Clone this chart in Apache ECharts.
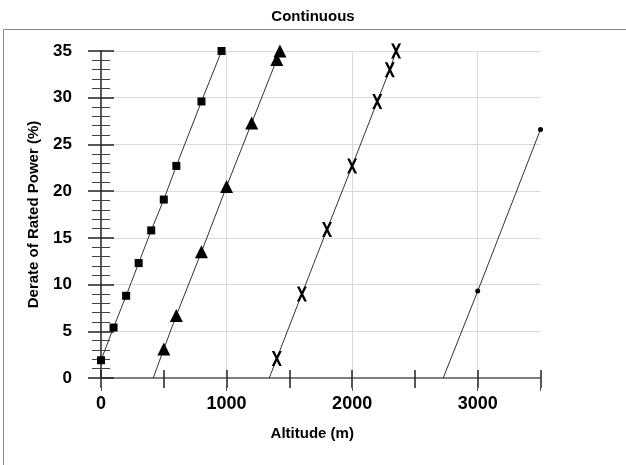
<!DOCTYPE html>
<html>
<head>
<meta charset="utf-8">
<script src="https://cdn.jsdelivr.net/npm/echarts@6/dist/echarts.min.js"></script>
<style>html,body{margin:0;padding:0;background:#fff;}#c{width:626px;height:465px;}</style>
</head>
<body>
<div id="c"></div>
<script>
// Series 1 (squares)
const sqAlt = [0, 100, 200, 300, 400, 500, 600, 800, 960];
const sqVal = [1.9, 5.4, 8.8, 12.3, 15.8, 19.1, 22.7, 29.6, 35.0];
// Series 2 (triangles); first point is the line's start on the axis
const triAlt = [416, 500, 600, 800, 1000, 1200, 1400, 1425];
const triVal = [0, 3.1, 6.7, 13.5, 20.5, 27.3, 34.1, 35.0];
// Series 3 (crosses); first point is the line's start on the axis
const xAlt = [1340, 1400, 1600, 1800, 2000, 2200, 2300, 2350];
const xVal = [0, 2.1, 9.0, 15.9, 22.7, 29.6, 33.0, 35.0];
// Series 4 (dots); first point is the line's start on the axis
const dotAlt = [2725, 3000, 3500];
const dotVal = [0, 9.3, 26.6];
// Axes
const xTickLabels = [0, 1000, 2000, 3000];
const xMin = 0, xMax = 3500;
const yMin = 0, yMax = 35;

const FONT = "'Liberation Sans', Arial, sans-serif";
const XSYM = 'path://M0,0L2.6,0L10,15L7.4,15ZM7.4,0L10,0L2.6,15L0,15Z';

function pts(alts, vals, hideFirst) {
  return alts.map((a, i) => (hideFirst && i === 0) ? { value: [a, vals[i]], symbol: 'none' } : [a, vals[i]]);
}

const chart = echarts.init(document.getElementById('c'), null, { renderer: 'canvas' });
const lineStyle = { color: '#333', width: 1 };
const base = { type: 'line', xAxisIndex: 0, yAxisIndex: 0, clip: false, animation: false,
  lineStyle: lineStyle, itemStyle: { color: '#000' }, z: 5 };

chart.setOption({
  animation: false,
  backgroundColor: '#fff',
  title: {
    text: 'Continuous', left: 'center', top: 4,
    textStyle: { fontFamily: FONT, fontSize: 15, fontWeight: 'bold', color: '#000' }
  },
  graphic: [{
    type: 'rect', silent: true, z: -10,
    shape: { x: 3.5, y: 29.5, width: 700, height: 500 },
    style: { fill: 'none', stroke: '#8a8a8a', lineWidth: 1 }
  }],
  grid: { left: 101, right: 85.5, top: 51, bottom: 87, containLabel: false },
  xAxis: [
    {
      type: 'value', min: xMin, max: xMax, interval: 500, position: 'bottom',
      name: 'Altitude (m)', nameLocation: 'middle', nameGap: 48,
      nameTextStyle: { fontFamily: FONT, fontSize: 15, fontWeight: 'bold', color: '#000', padding: [0, 17, 0, 0] },
      axisLine: { show: true, lineStyle: { color: '#555', width: 1.5 } },
      axisTick: { show: true, inside: false, length: 10, lineStyle: { color: '#222', width: 1.5 } },
      axisLabel: { show: true, margin: 17, fontFamily: FONT, fontSize: 18, fontWeight: 'bold', color: '#000',
        formatter: v => (xTickLabels.indexOf(v) >= 0 ? String(v) : '') },
      splitLine: { show: false }
    },
    {
      type: 'value', min: xMin, max: xMax, interval: 500, position: 'bottom',
      axisLine: { show: false },
      axisTick: { show: true, inside: true, length: 8, lineStyle: { color: '#222', width: 1.5 } },
      axisLabel: { show: false }, splitLine: { show: false }
    },
    {
      type: 'value', min: xMin, max: xMax, interval: 1000, position: 'bottom',
      axisLine: { show: false },
      axisTick: { show: true, inside: false, length: 13, lineStyle: { color: '#555', width: 1 } },
      axisLabel: { show: false },
      splitLine: { show: true, showMinLine: false, showMaxLine: false, lineStyle: { color: '#d9d9d9', width: 1 } }
    }
  ],
  yAxis: [
    {
      type: 'value', min: yMin, max: yMax, interval: 5, position: 'left',
      name: 'Derate of Rated Power (%)', nameLocation: 'middle', nameGap: 60,
      nameTextStyle: { fontFamily: FONT, fontSize: 15, fontWeight: 'bold', color: '#000' },
      axisLine: { show: true, lineStyle: { color: '#222', width: 1.5 } },
      axisTick: { show: true, inside: false, length: 13, lineStyle: { color: '#222', width: 1.5 } },
      minorTick: { show: true, splitNumber: 5, length: 9, lineStyle: { color: '#444', width: 1 } },
      axisLabel: { show: true, margin: 29, fontFamily: FONT, fontSize: 17, fontWeight: 'bold', color: '#000' },
      splitLine: { show: true, showMinLine: false, lineStyle: { color: '#d9d9d9', width: 1 } }
    },
    {
      type: 'value', min: yMin, max: yMax, interval: 5, position: 'left',
      axisLine: { show: false },
      axisTick: { show: true, inside: true, length: 13, lineStyle: { color: '#222', width: 1.5 } },
      minorTick: { show: true, splitNumber: 5, length: 9, lineStyle: { color: '#444', width: 1 } },
      axisLabel: { show: false }, splitLine: { show: false }
    }
  ],
  series: [
    Object.assign({}, base, { name: 'S1', symbol: 'rect', symbolSize: 8, data: pts(sqAlt, sqVal, false) }),
    Object.assign({}, base, { name: 'S2', symbol: 'triangle', symbolSize: 13, data: pts(triAlt, triVal, true) }),
    Object.assign({}, base, { name: 'S3', symbol: XSYM, symbolSize: [10, 15], data: pts(xAlt, xVal, true) }),
    Object.assign({}, base, { name: 'S4', symbol: 'circle', symbolSize: 5, data: pts(dotAlt, dotVal, true) })
  ]
});
</script>
</body>
</html>
